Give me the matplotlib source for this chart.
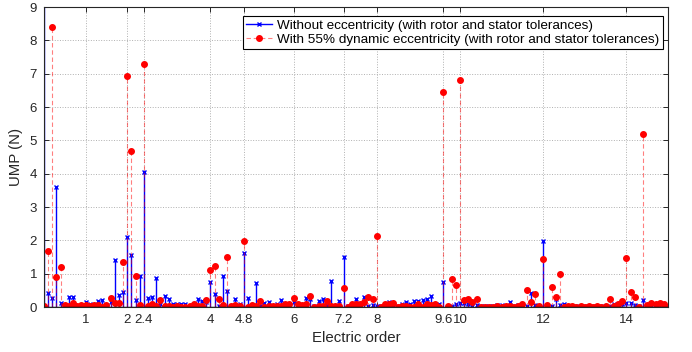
import matplotlib.pyplot as plt
import numpy as np
from matplotlib.lines import Line2D

plt.rcParams['font.family'] = ['Liberation Sans', 'DejaVu Sans']
plt.rcParams['font.size'] = 10.8

# electric orders, 0.1 resolution from 0 to 15
orders = np.round(np.arange(151) * 0.1, 1)

# UMP without eccentricity (N), one row per unit of order
ump_healthy = [
    9.5, 0.43, 0.27, 3.61, 0.11, 0.03, 0.29, 0.29, 0.02, 0.03,
    0.16, 0.09, 0.04, 0.19, 0.21, 0.02, 0.16, 1.41, 0.37, 0.44,
    2.10, 1.55, 0.20, 0.92, 4.05, 0.27, 0.31, 0.88, 0.10, 0.34,
    0.25, 0.10, 0.08, 0.10, 0.10, 0.03, 0.03, 0.25, 0.17, 0.15,
    0.75, 0.38, 0.03, 0.93, 0.48, 0.03, 0.23, 0.08, 1.61, 0.28,
    0.05, 0.71, 0.03, 0.11, 0.16, 0.03, 0.08, 0.20, 0.03, 0.03,
    0.16, 0.03, 0.03, 0.28, 0.24, 0.03, 0.17, 0.23, 0.07, 0.79,
    0.03, 0.17, 1.49, 0.03, 0.03, 0.23, 0.05, 0.30, 0.03, 0.05,
    0.03, 0.03, 0.03, 0.14, 0.03, 0.03, 0.08, 0.15, 0.08, 0.18,
    0.18, 0.21, 0.24, 0.33, 0.03, 0.10, 0.76, 0.03, 0.03, 0.08,
    0.11, 0.11, 0.08, 0.03, 0.05, 0.03, 0.03, 0.03, 0.03, 0.06,
    0.05, 0.03, 0.15, 0.03, 0.05, 0.03, 0.03, 0.43, 0.05, 0.03,
    1.98, 0.03, 0.03, 0.25, 0.05, 0.08, 0.03, 0.03, 0.03, 0.03,
    0.03, 0.03, 0.03, 0.03, 0.03, 0.03, 0.03, 0.08, 0.03, 0.08,
    0.11, 0.11, 0.05, 0.03, 0.21, 0.03, 0.05, 0.05, 0.08, 0.10,
    0.03,
]

# UMP with 55% dynamic eccentricity (N)
ump_eccentric = [
    0.02, 1.69, 8.40, 0.91, 1.19, 0.06, 0.03, 0.11, 0.03, 0.06,
    0.06, 0.03, 0.06, 0.05, 0.01, 0.05, 0.28, 0.13, 0.12, 1.34,
    6.93, 4.67, 0.93, 0.07, 7.28, 0.04, 0.10, 0.03, 0.21, 0.03,
    0.03, 0.01, 0.03, 0.01, 0.01, 0.03, 0.10, 0.03, 0.03, 0.21,
    1.11, 1.22, 0.24, 0.07, 1.50, 0.03, 0.06, 0.03, 1.99, 0.00,
    0.05, 0.03, 0.18, 0.01, 0.03, 0.03, 0.03, 0.03, 0.10, 0.08,
    0.26, 0.08, 0.06, 0.10, 0.33, 0.01, 0.03, 0.03, 0.17, 0.03,
    0.03, 0.03, 0.58, 0.00, 0.08, 0.08, 0.10, 0.16, 0.31, 0.24,
    2.14, 0.00, 0.08, 0.08, 0.13, 0.01, 0.03, 0.03, 0.01, 0.01,
    0.08, 0.01, 0.08, 0.05, 0.08, 0.01, 6.45, 0.03, 0.84, 0.65,
    6.80, 0.21, 0.23, 0.15, 0.25, 0.01, 0.01, 0.01, 0.01, 0.03,
    0.01, 0.03, 0.03, 0.01, 0.03, 0.08, 0.52, 0.15, 0.38, 0.03,
    1.45, 0.05, 0.59, 0.31, 0.99, 0.01, 0.03, 0.02, 0.01, 0.02,
    0.01, 0.02, 0.01, 0.03, 0.01, 0.02, 0.23, 0.03, 0.08, 0.17,
    1.47, 0.45, 0.31, 0.01, 5.18, 0.05, 0.13, 0.08, 0.13, 0.08,
    0.01,
]

xtick_vals = [1, 2, 2.4, 4, 4.8, 6, 7.2, 8, 9.6, 10, 12, 14]
xtick_labels = ['1', '2', '2.4', '4', '4.8', '6', '7.2', '8', '9.6', '10', '12', '14']

label_healthy = 'Without eccentricity (with rotor and stator tolerances)'
label_eccentric = 'With 55% dynamic eccentricity (with rotor and stator tolerances)'

fig = plt.figure(figsize=(6.92, 3.52), dpi=100)
ax = fig.add_axes([44 / 692, 1 - 307 / 352, 624 / 692, 300 / 352])

dark = '#262626'

m1, s1, b1 = ax.stem(orders, ump_healthy, basefmt=' ')
s1.set_color('blue')
s1.set_linewidth(1.0)
m1.set_marker('x')
m1.set_color('blue')
m1.set_markersize(3.5)
m1.set_markeredgewidth(1.0)

m2, s2, b2 = ax.stem(orders, ump_eccentric, basefmt=' ')
s2.set_color((1, 0, 0, 0.5))
s2.set_linewidth(0.8)
s2.set_linestyle((0, (4, 2.5)))
m2.set_marker('o')
m2.set_color('red')
m2.set_markersize(4)

ax.axhline(0, color='black', lw=1.0)

ax.set_xlim(0, 15)
ax.set_ylim(0, 9)
ax.set_xticks(xtick_vals)
ax.set_xticklabels(xtick_labels)
ax.set_yticks(range(10))
ax.grid(True, linestyle=':', color='#b0b0b0', lw=0.7)
ax.set_axisbelow(True)
ax.tick_params(direction='in', length=3.5, width=0.7, colors=dark,
               top=True, right=True, labelsize=9.5, pad=5)
for sp in ax.spines.values():
    sp.set_color(dark)
    sp.set_linewidth(0.8)

ax.set_xlabel('Electric order', color=dark, labelpad=4)
ax.set_ylabel('UMP (N)', color=dark, labelpad=5)

handles = [
    Line2D([], [], color='blue', lw=1.0, marker='x', markersize=3.5, mew=1.0),
    Line2D([], [], color=(1, 0, 0, 0.5), lw=0.8, ls=(0, (4, 2.5)),
           marker='o', markersize=4, mfc='red', mec='red'),
]
leg = ax.legend(handles, [label_healthy, label_eccentric], loc='upper right',
                bbox_to_anchor=(0.992, 0.97), fancybox=False, framealpha=1,
                edgecolor='black', borderpad=0.25, handlelength=1.9,
                handletextpad=0.4, labelspacing=0.1, borderaxespad=0,
                fontsize=9.7)
leg.get_frame().set_linewidth(0.8)

fig.savefig('out.png', dpi=100)
